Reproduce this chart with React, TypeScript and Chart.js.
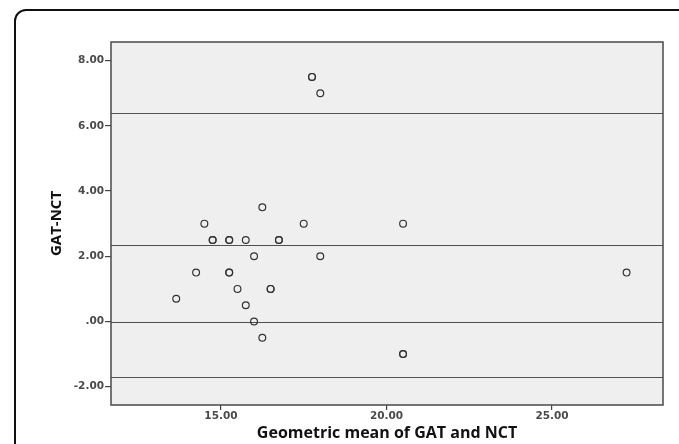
import React, { useEffect, useRef } from "react";
import { Chart, registerables } from "chart.js";

Chart.register(...registerables);

// Data (x = geometric mean, y = GAT-NCT)
const meanValues: number[] = [
  17.75, 17.75, 18.0,
  16.25,
  14.5, 17.5, 20.5,
  14.75, 14.75, 15.25, 15.25, 15.75, 16.75, 16.75,
  16.0, 18.0,
  14.25, 15.25, 15.25, 27.25,
  15.5, 16.5, 16.5,
  13.65, 15.75, 16.0, 16.25,
  20.5, 20.5,
];
const diffValues: number[] = [
  7.5, 7.5, 7.0,
  3.5,
  3.0, 3.0, 3.0,
  2.5, 2.5, 2.5, 2.5, 2.5, 2.5, 2.5,
  2.0, 2.0,
  1.5, 1.5, 1.5, 1.5,
  1.0, 1.0, 1.0,
  0.7, 0.5, 0.0, -0.5,
  -1.0, -1.0,
];
// Horizontal reference lines: upper limit, mean difference, zero, lower limit
const refLines: number[] = [6.4, 2.35, 0, -1.7];
const xTicks: number[] = [15, 20, 25];
const yTicks: number[] = [-2, 0, 2, 4, 6, 8];
const xRange: number[] = [11.68, 28.35];
const yRange: number[] = [-2.56, 8.57];

const fmt = (v: number) => (v === 0 ? ".00" : v.toFixed(2));

const plotDecor = {
  id: "plotDecor",
  beforeDatasetsDraw(chart: any) {
    const { ctx, chartArea: a, scales } = chart;
    ctx.save();
    ctx.fillStyle = "#efefef";
    ctx.fillRect(a.left, a.top, a.right - a.left, a.bottom - a.top);
    ctx.strokeStyle = "#505050";
    ctx.lineWidth = 1.2;
    refLines.forEach((v) => {
      const y = Math.round(scales.y.getPixelForValue(v)) + 0.5;
      ctx.beginPath();
      ctx.moveTo(a.left, y);
      ctx.lineTo(a.right, y);
      ctx.stroke();
    });
    ctx.strokeStyle = "#4a4a4a";
    ctx.lineWidth = 1.5;
    ctx.strokeRect(a.left, a.top, a.right - a.left, a.bottom - a.top);
    ctx.restore();
  },
};

export default function App() {
  const ref = useRef<HTMLCanvasElement | null>(null);

  useEffect(() => {
    if (!ref.current) return;
    const points = meanValues.map((x, i) => ({ x, y: diffValues[i] }));
    const tickFont = { family: "DejaVu Sans", size: 10.5, weight: "bold" as const };
    const chart = new Chart(ref.current, {
      type: "scatter",
      data: {
        datasets: [
          {
            data: points,
            pointRadius: 3.4,
            pointBorderWidth: 1.2,
            pointBorderColor: "#333333",
            pointBackgroundColor: "rgba(0,0,0,0)",
            pointStyle: "circle",
          },
        ],
      },
      options: {
        animation: false,
        responsive: false,
        devicePixelRatio: 1,
        layout: { padding: { top: 42, right: 16, left: 0, bottom: 0 } },
        plugins: {
          legend: { display: false },
          tooltip: { enabled: false },
        },
        scales: {
          x: {
            type: "linear",
            min: xRange[0],
            max: xRange[1],
            afterBuildTicks: (s: any) => {
              s.ticks = xTicks.map((v) => ({ value: v }));
            },
            afterFit: (s: any) => {
              s.height = 39;
            },
            ticks: {
              callback: (v: any) => fmt(Number(v)),
              color: "#4a4a4a",
              font: tickFont,
              padding: 0,
              maxRotation: 0,
            },
            grid: {
              drawOnChartArea: false,
              drawTicks: true,
              tickLength: 5,
              color: "#444",
              lineWidth: 1.2,
            },
            border: { display: false },
            title: {
              display: true,
              text: "Geometric mean of GAT and NCT",
              color: "#111",
              font: { family: "Open Sans", size: 16, weight: "bold" },
              padding: { top: 0, bottom: 1 },
            },
          },
          y: {
            type: "linear",
            min: yRange[0],
            max: yRange[1],
            afterBuildTicks: (s: any) => {
              s.ticks = yTicks.map((v) => ({ value: v }));
            },
            afterFit: (s: any) => {
              s.width = 111;
            },
            ticks: {
              callback: (v: any) => fmt(Number(v)),
              color: "#4a4a4a",
              font: tickFont,
              padding: 1,
            },
            grid: {
              drawOnChartArea: false,
              drawTicks: true,
              tickLength: 6,
              color: "#444",
              lineWidth: 1.2,
            },
            border: { display: false },
            title: {
              display: true,
              text: "GAT-NCT",
              color: "#111",
              font: { family: "Open Sans", size: 15, weight: "bold" },
              padding: { top: 48, bottom: 0 },
            },
          },
        },
      },
      plugins: [plotDecor],
    });
    return () => chart.destroy();
  }, []);

  return (
    <div
      style={{
        position: "fixed",
        left: 0,
        top: 0,
        width: 679,
        height: 444,
        background: "#fff",
        overflow: "hidden",
      }}
    >
      <div
        style={{
          position: "absolute",
          left: 14,
          top: 9,
          width: 720,
          height: 500,
          border: "2px solid #111",
          borderRadius: 12,
          boxSizing: "border-box",
        }}
      />
      <canvas
        ref={ref}
        width={679}
        height={444}
        style={{ position: "absolute", left: 0, top: 0, width: 679, height: 444 }}
      />
    </div>
  );
}
